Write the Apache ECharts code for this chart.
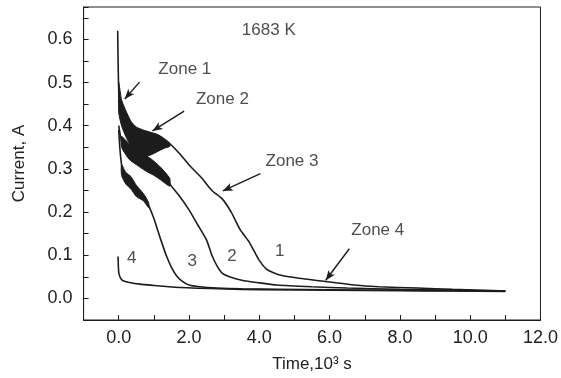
<!DOCTYPE html>
<html><head><meta charset="utf-8">
<script src="https://cdn.jsdelivr.net/npm/echarts@6/dist/echarts.min.js"></script>
<style>html,body{margin:0;padding:0;background:#fff}#c{width:561px;height:378px}</style>
</head><body><div id="c"></div>
<script>
// ---- Data (time in 10^3 s, current in A) ----
var t1 = [-0.03, 0.0, 0.05, 0.1, 0.25, 0.5, 0.75, 1.0, 1.25, 1.4, 1.7, 2.05, 2.35, 2.65, 2.95, 3.2, 3.45, 3.7, 3.85, 4.0, 4.2, 4.55, 5.3, 6.0, 6.7, 7.4, 8.5, 9.5, 10.3, 11.0];
var I1 = [0.62, 0.48, 0.45, 0.43, 0.405, 0.37, 0.36, 0.36, 0.355, 0.36, 0.338, 0.305, 0.28, 0.25, 0.23, 0.2, 0.16, 0.132, 0.11, 0.088, 0.068, 0.055, 0.045, 0.038, 0.031, 0.027, 0.024, 0.021, 0.019, 0.017];
var bandT1 = [0.0, 0.08, 0.2, 0.35, 0.5, 0.7, 0.9, 1.1, 1.3, 1.45];
var bandUp1 = [0.50, 0.46, 0.435, 0.41, 0.397, 0.39, 0.385, 0.38, 0.37, 0.36];
var bandLo1 = [0.43, 0.40, 0.375, 0.352, 0.338, 0.33, 0.332, 0.34, 0.348, 0.352];

var t2 = [0.0, 0.05, 0.1, 0.25, 0.5, 0.75, 1.0, 1.25, 1.45, 1.7, 2.0, 2.25, 2.5, 2.65, 2.8, 2.95, 3.15, 3.5, 4.0, 4.5, 5.5, 6.5, 8.0, 9.5, 11.0];
var I2 = [0.40, 0.375, 0.36, 0.34, 0.33, 0.315, 0.30, 0.285, 0.265, 0.24, 0.205, 0.17, 0.135, 0.10, 0.075, 0.058, 0.05, 0.042, 0.036, 0.031, 0.027, 0.024, 0.021, 0.019, 0.017];
var bandT2 = [0.08, 0.3, 0.5, 0.75, 1.0, 1.2, 1.45];
var bandUp2 = [0.375, 0.358, 0.348, 0.333, 0.318, 0.303, 0.278];
var bandLo2 = [0.35, 0.322, 0.31, 0.296, 0.285, 0.274, 0.26];

var t3 = [0.0, 0.03, 0.08, 0.15, 0.3, 0.5, 0.7, 0.85, 1.0, 1.1, 1.2, 1.35, 1.5, 1.65, 1.8, 2.0, 2.3, 2.8, 3.5, 4.5, 6.0, 8.0, 9.5, 11.0];
var I3 = [0.39, 0.35, 0.31, 0.285, 0.27, 0.25, 0.235, 0.215, 0.185, 0.16, 0.135, 0.10, 0.072, 0.052, 0.04, 0.031, 0.027, 0.024, 0.022, 0.021, 0.02, 0.019, 0.018, 0.017];
var bandT3 = [0.08, 0.2, 0.35, 0.5, 0.7, 0.85];
var bandUp3 = [0.31, 0.292, 0.282, 0.262, 0.243, 0.222];
var bandLo3 = [0.285, 0.265, 0.253, 0.236, 0.226, 0.21];

var t4 = [-0.02, 0.0, 0.05, 0.12, 0.3, 0.6, 1.0, 1.6, 2.6, 3.5, 4.5, 6.0, 8.0, 9.5, 11.0];
var I4 = [0.097, 0.06, 0.047, 0.041, 0.037, 0.033, 0.030, 0.026, 0.023, 0.021, 0.02, 0.019, 0.018, 0.017, 0.016];

// annotations: text, x, y (data coords)
var noteText = ['1683 K', 'Zone 1', 'Zone 2', 'Zone 3', 'Zone 4', '1', '2', '3', '4'];
var noteX = [4.27, 1.88, 2.95, 4.93, 7.37, 4.58, 3.22, 2.09, 0.37];
var noteY = [0.622, 0.530, 0.461, 0.318, 0.157, 0.108, 0.097, 0.085, 0.092];
// arrows: from (x,y) to (x,y)
var arrowFrom = [[0.59, 0.501], [1.86, 0.434], [4.03, 0.289], [6.56, 0.115]];
var arrowTo = [[0.17, 0.462], [0.96, 0.388], [2.96, 0.249], [5.89, 0.042]];

// ---- build ----
function pairs(xs, ys) { return xs.map(function (x, i) { return [x, ys[i]]; }); }
var INK = '#1c1c1c';
var FONT = 'Liberation Sans, Arial, sans-serif';

function curve(xs, ys) {
  return { type: 'line', data: pairs(xs, ys), symbol: 'none', smooth: 0.2,
    lineStyle: { color: INK, width: 1.6 }, z: 3, silent: true };
}
var bands = [[bandT1, bandUp1, bandLo1], [bandT2, bandUp2, bandLo2], [bandT3, bandUp3, bandLo3]];

var series = [curve(t1, I1), curve(t2, I2), curve(t3, I3), curve(t4, I4)];
series.push({
  type: 'custom', silent: true, z: 4,
  data: bands.map(function (b, i) { return [b[0][0], b[1][0], i]; }),
  encode: { x: 0, y: 1 },
  renderItem: function (params, api) {
    var b = bands[api.value(2)];
    var pts = [];
    for (var i = 0; i < b[0].length; i++) pts.push(api.coord([b[0][i], b[1][i]]));
    for (var j = b[0].length - 1; j >= 0; j--) pts.push(api.coord([b[0][j], b[2][j]]));
    return { type: 'polygon', shape: { points: pts, smooth: 0.2 },
      style: { fill: INK, stroke: INK, lineWidth: 1 } };
  }
});

series.push({
  type: 'scatter', symbolSize: 0, silent: true, z: 5,
  data: noteText.map(function (n, i) { return { name: n, value: [noteX[i], noteY[i]] }; }),
  label: { show: true, position: 'inside', formatter: '{b}', color: '#222', fontSize: 17, fontFamily: FONT },
  markLine: {
    silent: true, symbol: ['none', 'arrow'], symbolSize: [6, 10],
    lineStyle: { color: INK, width: 1.4, type: 'solid' }, label: { show: false },
    data: arrowFrom.map(function (f, i) { return [{ coord: f }, { coord: arrowTo[i] }]; })
  }
});

var chart = echarts.init(document.getElementById('c'), null, { renderer: 'canvas' });
chart.setOption({
  backgroundColor: '#fff',
  animation: false,
  grid: { left: 83.6, right: 17.2, top: 7, bottom: 56, show: true, borderColor: INK, borderWidth: 1 },
  xAxis: {
    type: 'value', min: -1, max: 12, interval: 1,
    name: 'Time,10\u00B3 s', nameLocation: 'middle', nameGap: 36,
    nameTextStyle: { color: '#222', fontSize: 17, fontFamily: FONT },
    axisLine: { onZero: false, lineStyle: { color: INK, width: 1 } },
    axisTick: { inside: true, length: 5, lineStyle: { color: INK } },
    splitLine: { show: false },
    axisLabel: { color: '#222', fontSize: 18, fontFamily: FONT, margin: 9, showMaxLabel: true,
      formatter: function (v) { var r = Math.round(v); return (r >= 0 && r % 2 === 0 && Math.abs(v - r) < 1e-6) ? r.toFixed(1) : ''; } }
  },
  yAxis: {
    type: 'value', min: -0.05, max: 0.675, interval: 0.05,
    name: 'Current, A', nameLocation: 'middle', nameGap: 56,
    nameTextStyle: { color: '#222', fontSize: 17, fontFamily: FONT },
    axisLine: { onZero: false, lineStyle: { color: INK, width: 1 } },
    axisTick: { inside: true, length: 5, lineStyle: { color: INK } },
    splitLine: { show: false },
    axisLabel: { color: '#222', fontSize: 18, fontFamily: FONT, margin: 11,
      formatter: function (v) { var r = Math.round(v * 10); return (r >= 0 && Math.abs(v * 10 - r) < 1e-6) ? (r / 10).toFixed(1) : ''; } }
  },
  series: series
});
</script>
</body></html>
